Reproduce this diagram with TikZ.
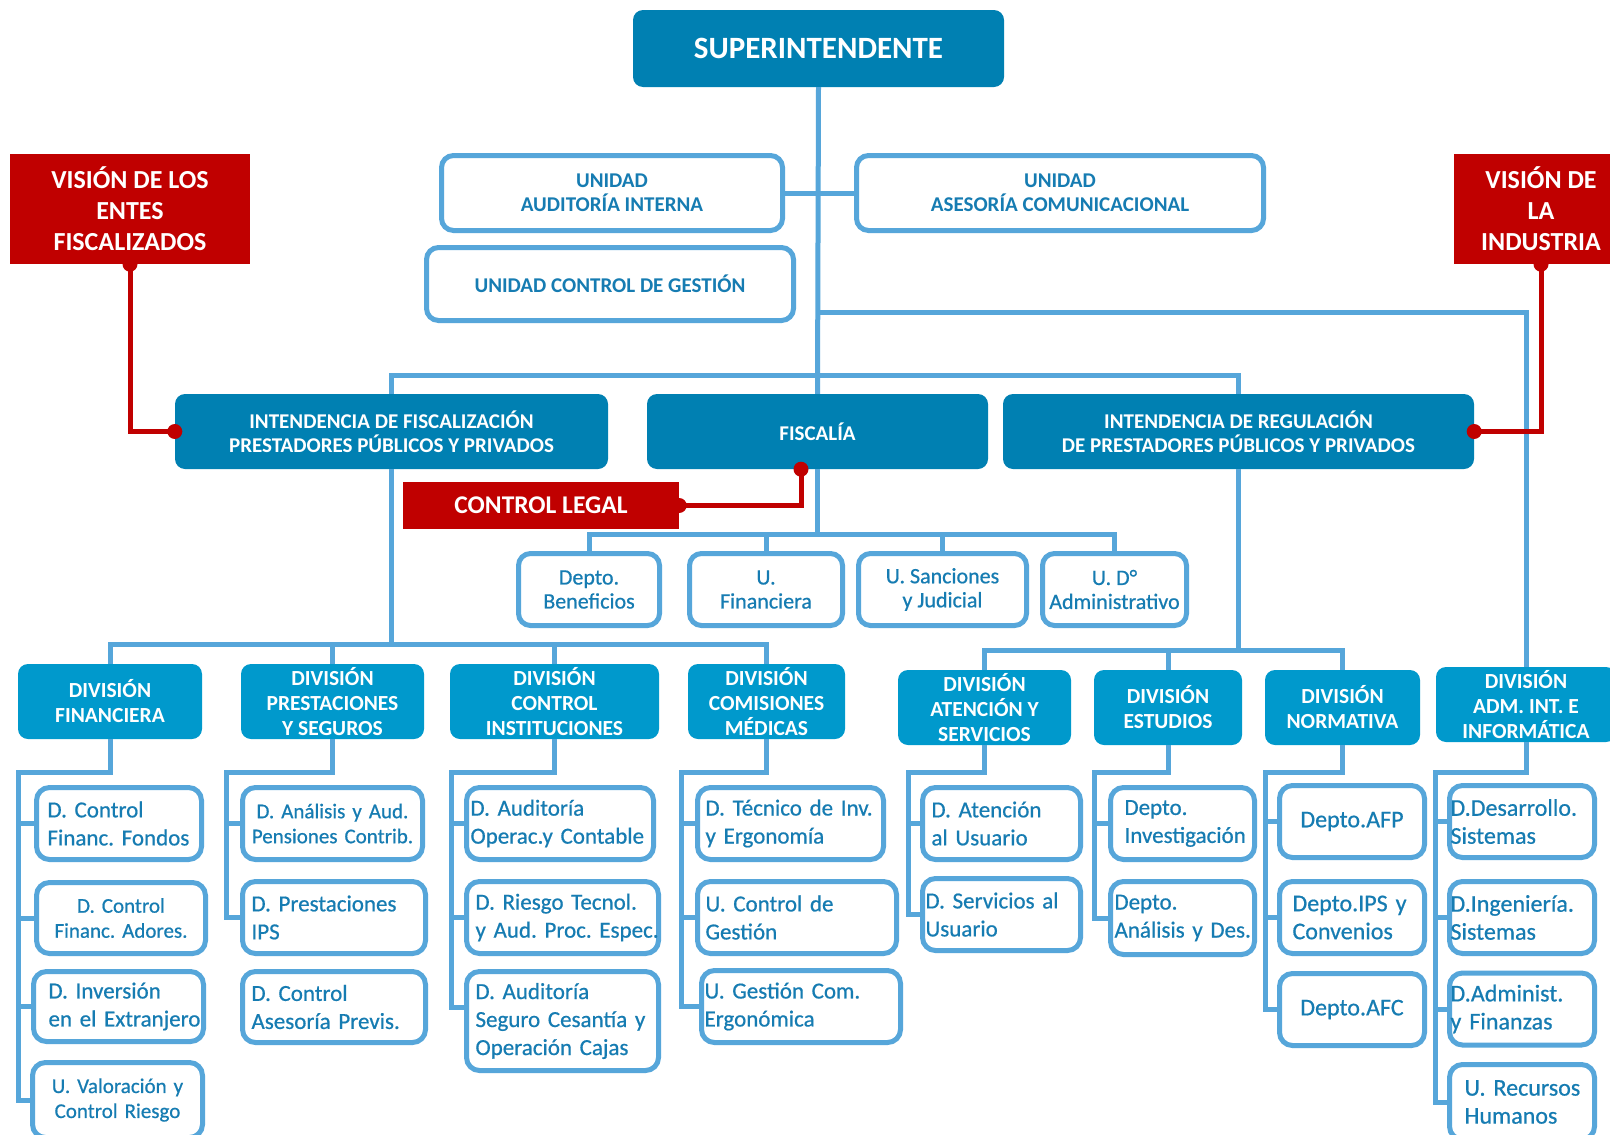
\documentclass[tikz,border=0pt]{standalone}
\usepackage{fontspec}
\setmainfont{Carlito}
\newfontfamily\semibold{Carlito}[FakeBold=0.6]
\usetikzlibrary{positioning}
\definecolor{cdark}{RGB}{0,128,178}
\definecolor{cdiv}{RGB}{0,153,204}
\definecolor{lblue}{RGB}{86,166,218}
\definecolor{tblue}{RGB}{22,124,178}
\definecolor{cred}{RGB}{192,0,0}
\hyphenpenalty=10000
\exhyphenpenalty=10000

\begin{document}
\begin{tikzpicture}[x=1pt, y=-1pt,
		head/.style={fill=cdark, rounded corners=10pt, text=white, font=\bfseries\fontsize{21}{24}\selectfont, align=center, inner sep=0pt, minimum height=75pt},
		divn/.style={fill=cdiv, rounded corners=10pt, text=white, font=\bfseries\fontsize{21.5}{25}\selectfont, align=center, inner sep=0pt, minimum height=75pt},
		unitb/.style={draw=lblue, line width=5pt, fill=white, rounded corners=12pt, text=tblue, align=center, inner sep=0pt, font=\semibold\fontsize{22}{24}\selectfont},
		sub/.style={draw=lblue, line width=5pt, fill=white, rounded corners=13pt, text=tblue, font=\semibold\fontsize{23}{28}\selectfont, align=left, inner ysep=0pt, inner xsep=#1},
		sub/.default=8pt,
		vision/.style={fill=cred, text=white, font=\bfseries\fontsize{26}{31}\selectfont, align=center, inner sep=0pt},
		link/.style={draw=lblue, line width=5pt},
		redlink/.style={draw=cred, line width=5pt}
	]
	\path[use as bounding box, fill=white] (0,0) rectangle (1610,1135);

	% top level
	\node[head, minimum width=371pt, minimum height=77pt, font=\bfseries\fontsize{31}{34}\selectfont] (sup) at (818.5,48.5) {SUPERINTENDENTE};
	\node[unitb, minimum width=341pt, minimum height=75pt, font=\bfseries\fontsize{21}{24}\selectfont] (uai) at (612,193) {UNIDAD\\AUDITORÍA INTERNA};
	\node[unitb, minimum width=407pt, minimum height=75pt, font=\bfseries\fontsize{21}{24}\selectfont] (uac) at (1060,193) {UNIDAD\\ASESORÍA COMUNICACIONAL};
	\node[unitb, minimum width=367pt, minimum height=73pt, font=\bfseries\fontsize{21}{24}\selectfont] (ucg) at (610,284) {UNIDAD CONTROL DE GESTIÓN};
	\node[vision, minimum width=240pt, minimum height=110pt] (vef) at (130,209) {VISIÓN DE LOS\\ENTES\\FISCALIZADOS};
	\node[vision, minimum width=174pt, minimum height=110pt] (vli) at (1541,209) {VISIÓN DE\\LA\\INDUSTRIA};

	% intendencias
	\node[head, minimum width=433pt] (ifp) at (391.5,431.5) {INTENDENCIA DE FISCALIZACIÓN\\PRESTADORES PÚBLICOS Y PRIVADOS};
	\node[head, minimum width=341pt] (fis) at (817.5,431.5) {FISCALÍA};
	\node[head, minimum width=471pt] (irp) at (1238.5,431.5) {INTENDENCIA DE REGULACIÓN\\DE PRESTADORES PÚBLICOS Y PRIVADOS};
	\node[vision, minimum width=276pt, minimum height=47pt, font=\bfseries\fontsize{25.5}{28}\selectfont] (cl) at (541,505.5) {CONTROL LEGAL};

	% fiscalia units
	\node[unitb, minimum width=141pt, minimum height=72pt] (dben) at (589,589.5) {Depto.\\Beneficios};
	\node[unitb, minimum width=153pt, minimum height=72pt] (ufin) at (766,589.5) {U.\\Financiera};
	\node[unitb, minimum width=168pt, minimum height=72pt] (usan) at (942.5,589.5) {U. Sanciones\\y Judicial};
	\node[unitb, minimum width=144pt, minimum height=72pt] (uda) at (1114.5,589.5) {U. D°\\Administrativo};

	% divisions
	\node[divn, minimum width=184pt] (dfin) at (110,701.5) {DIVISIÓN\\FINANCIERA};
	\node[divn, minimum width=183pt] (dpre) at (332.5,701.5) {DIVISIÓN\\PRESTACIONES\\Y SEGUROS};
	\node[divn, minimum width=209pt] (dcin) at (554.5,701.5) {DIVISIÓN\\CONTROL\\INSTITUCIONES};
	\node[divn, minimum width=157pt] (dcom) at (766.5,701.5) {DIVISIÓN\\COMISIONES\\MÉDICAS};
	\node[divn, minimum width=173pt] (date) at (984.5,707.5) {DIVISIÓN\\ATENCIÓN Y\\SERVICIOS};
	\node[divn, minimum width=148pt] (dest) at (1168,707.5) {DIVISIÓN\\ESTUDIOS};
	\node[divn, minimum width=155pt] (dnor) at (1342.5,707.5) {DIVISIÓN\\NORMATIVA};
	\node[divn, minimum width=180pt] (dadm) at (1526,704.5) {DIVISIÓN\\ADM. INT. E\\INFORMÁTICA};

	% departamentos
	\node[sub=11pt, minimum height=72pt, text width=143pt] (f1) at (119,823.5) {D.~Control\\Financ.~Fondos};
	\node[sub=4pt, minimum height=71pt, text width=161pt, align=center, font=\semibold\fontsize{21}{25}\selectfont] (f2) at (121,918) {D.~Control\\Financ.~Adores.};
	\node[sub=15pt, minimum height=70pt, text width=140pt] (f3) at (118.5,1006.5) {D.~Inversión\\en~el~Extranjero};
	\node[sub=4pt, minimum height=75pt, text width=162pt, align=center, font=\semibold\fontsize{21}{25}\selectfont] (f4) at (117.5,1100) {U.~Valoración~y\\Control~Riesgo};

	\node[sub=2pt, minimum height=72pt, text width=176pt, align=center, font=\semibold\fontsize{21}{25}\selectfont] (p1) at (332.5,823.5) {D.~Análisis~y~Aud.\\Pensiones~Contrib.};
	\node[sub=9pt, minimum height=72pt, text width=165pt] (p2) at (334,917.5) {D.~Prestaciones\\IPS};
	\node[sub=9pt, minimum height=71pt, text width=165pt] (p3) at (334,1007) {D.~Control\\Asesoría~Previs.};

	\node[sub=4pt, minimum height=72pt, text width=179pt] (c1) at (560,823.5) {D.~Auditoría\\Operac.y~Contable};
	\node[sub=9pt, minimum height=72pt, text width=174pt] (c2) at (562.5,917.5) {D.~Riesgo~Tecnol.\\y~Aud.~Proc.~Espec.};
	\node[sub=9pt, minimum height=99pt, text width=174pt] (c3) at (562.5,1021) {D.~Auditoría\\Seguro~Cesantía~y\\Operación~Cajas};

	\node[sub=8pt, minimum height=72pt, text width=170pt] (m1) at (790.5,823.5) {D.~Técnico~de~Inv.\\y~Ergonomía};
	\node[sub=8pt, minimum height=72pt, text width=183pt] (m2) at (797,917.5) {U.~Control~de\\Gestión};
	\node[sub=3pt, minimum height=72pt, text width=193pt] (m3) at (801,1006.5) {U.~Gestión~Com.\\Ergonómica};

	\node[sub=9pt, minimum height=72pt, text width=140pt] (a1) at (1001.5,823.5) {D.~Atención\\al~Usuario};
	\node[sub=3pt, minimum height=72pt, text width=152pt] (a2) at (1001.5,914.5) {D.~Servicios~al\\Usuario};

	\node[sub=14pt, minimum height=72pt, text width=116pt] (e1) at (1182.5,823.5) {Depto.\\Investigación};
	\node[sub=4pt, minimum height=73pt, text width=136pt] (e2) at (1182.5,918) {Depto.\\Análisis~y~Des.};

	\node[sub=4pt, minimum height=72pt, text width=137pt, align=center, font=\semibold\fontsize{24}{28}\selectfont] (n1) at (1352,821.5) {Depto.AFP};
	\node[sub=13pt, minimum height=72pt, text width=119pt, font=\semibold\fontsize{24}{28}\selectfont] (n2) at (1352,917.5) {Depto.IPS~y\\Convenios};
	\node[sub=4pt, minimum height=72pt, text width=137pt, align=center, font=\semibold\fontsize{24}{28}\selectfont] (n3) at (1352,1009.5) {Depto.AFC};

	\node[sub=1pt, minimum height=72pt, text width=143pt, font=\semibold\fontsize{24}{28}\selectfont] (r1) at (1522,821.5) {D.Desarrollo.\\Sistemas};
	\node[sub=1pt, minimum height=72pt, text width=143pt, font=\semibold\fontsize{24}{28}\selectfont] (r2) at (1522,917.5) {D.Ingeniería.\\Sistemas};
	\node[sub=1pt, minimum height=72pt, text width=143pt, font=\semibold\fontsize{24}{28}\selectfont] (r3) at (1522,1009) {D.Administ.\\y~Finanzas};
	\node[sub=15pt, minimum height=75pt, text width=115pt, font=\semibold\fontsize{24}{28}\selectfont] (r4) at (1522,1102) {U.~Recursos\\Humanos};

	% bus points
	\coordinate (abus) at (817.5,312);
	\coordinate (ibus) at (817.5,375);
	\coordinate (fbus) at (817.5,534);
	\coordinate (lbus) at (391.5,644);
	\coordinate (rbus) at (1238.5,650);
	\foreach \k/\x in {k1/18, k2/226, k3/451, k4/681, k5/908, k6/1094, k7/1265, k8/1435}
		\coordinate (\k) at (\x,772);

	\foreach \i/\j in {sup.south/fis.north, uai.east/uac.west, fis.south/fbus, ifp.south/lbus, irp.south/rbus}
		\draw[link] (\i) -- (\j);

	\draw[link] (ifp.north) |- (ibus) -| (irp.north);
	\draw[link] (abus) -| (dadm.north);

	\foreach \u in {dben, ufin, usan, uda}
		\draw[link] (\u.north) |- (fbus);
	\foreach \d in {dfin, dpre, dcin, dcom}
		\draw[link] (\d.north) |- (lbus);
	\foreach \d in {date, dest, dnor}
		\draw[link] (\d.north) |- (rbus);

	% brackets to departamentos
	\draw[link] (dfin.south) |- (k1) |- (f4.west);
	\draw[link] (dpre.south) |- (k2) |- (p2.west);
	\draw[link] (dcin.south) |- (k3) |- ([yshift=14pt]c3.west);
	\draw[link] (dcom.south) |- (k4) |- (m3.west);
	\draw[link] (date.south) |- (k5) |- (a2.west);
	\draw[link] (dest.south) |- (k6) |- (e2.west);
	\draw[link] (dnor.south) |- (k7) |- (n3.west);
	\draw[link] (dadm.south) |- (k8) |- (r4.west);
	\foreach \k/\s in {k1/f1, k1/f2, k1/f3, k2/p1, k3/c1, k3/c2, k4/m1, k4/m2, k5/a1, k6/e1, k7/n1, k7/n2, k8/r1, k8/r2, k8/r3}
		\draw[link] (\k |- \s.west) -- (\s.west);

	% red links
	\draw[redlink] (vef.south) |- (ifp.west);
	\draw[redlink] (vli.south) |- (irp.east);
	\draw[redlink] (cl.east) -| ([xshift=-16.5pt]fis.south);
	\foreach \p in {vef.south, ifp.west, vli.south, irp.east, cl.east}
		\fill[cred] (\p) circle (7.5pt);
	\fill[cred] ([xshift=-16.5pt]fis.south) circle (7.5pt);

\end{tikzpicture}
\end{document}
